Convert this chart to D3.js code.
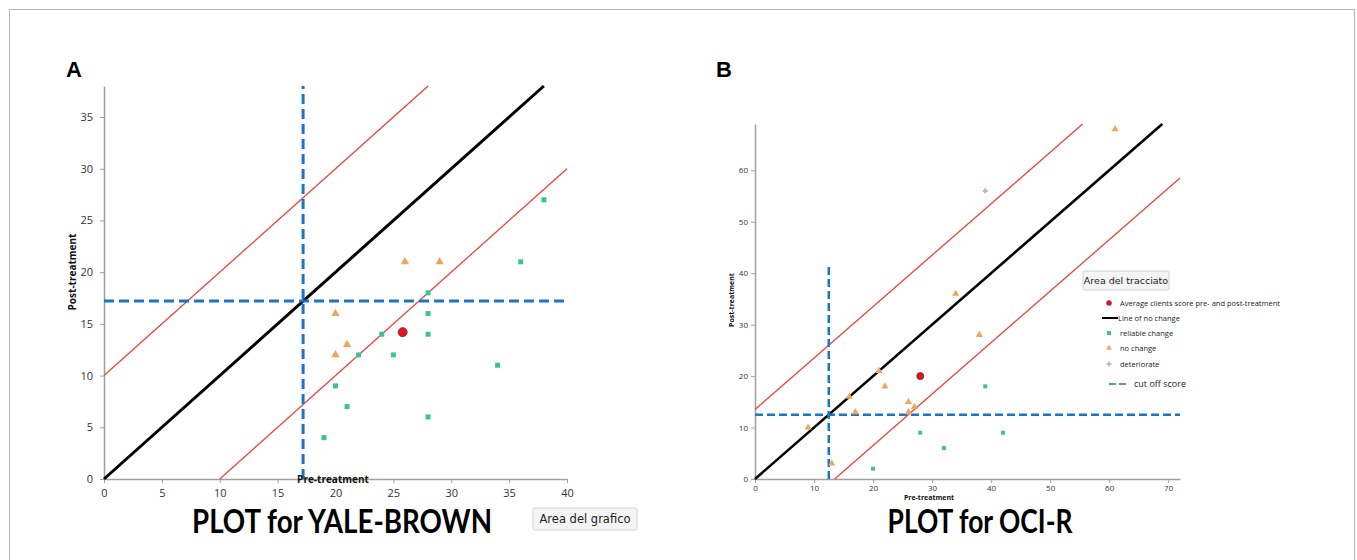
<!DOCTYPE html>
<html>
<head>
<meta charset="utf-8">
<script src="https://cdn.jsdelivr.net/npm/d3@7"></script>
<style>
  body { margin: 0; background: #fff; }
  svg { display: block; }
</style>
</head>
<body>
<svg id="chart"></svg>
<script>
const width = 1357, height = 560;

// Panel A - YALE-BROWN
const yaleReliable = [[19,4],[20,9],[21,7],[22,12],[24,14],[25,12],[28,18],[28,16],[28,14],[28,6],[34,11],[36,21],[38,27]];
const yaleNoChange = [[20,16],[20,12],[21,13],[26,21],[29,21]];
const yaleAverage = [[25.8,14.2]];
const yaleCutoff = 17.2;
const yaleBand = 10;
const yaleXTicks = [0,5,10,15,20,25,30,35,40];
const yaleYTicks = [0,5,10,15,20,25,30,35];

// Panel B - OCI-R
const ociReliable = [[20,2],[28,9],[32,6],[39,18],[42,9]];
const ociNoChange = [[9,10],[13,3],[16,16],[17,13],[21,21],[22,18],[26,15],[26,13],[27,14],[34,36],[38,28],[61,68]];
const ociDeteriorate = [[39,56]];
const ociAverage = [[28,20]];
const ociCutoff = 12.5;
const ociBand = 13.5;
const ociXTicks = [0,10,20,30,40,50,60,70];
const ociYTicks = [0,10,20,30,40,50,60];

const legendLabels = ["Average clients score pre- and post-treatment","Line of no change","reliable change","no change","deteriorate","cut off score"];

const colors = {
  green: "#3cc48e", orange: "#f2a35e", red: "#e8121b", band: "#e8453a",
  blue: "#1c74c4", gray: "#c4aab8", axis: "#a0a0a0", tick: "#333"
};

const svg = d3.select("#chart")
  .attr("width", width)
  .attr("height", height)
  .attr("viewBox", [0, 0, width, height]);

// figure frame
svg.append("rect")
  .attr("x", 9.5).attr("y", 9.5)
  .attr("width", 1345).attr("height", 600)
  .attr("fill", "none").attr("stroke", "#b5b5b5").attr("stroke-width", 1);

function drawPanel(opt) {
  const x = d3.scaleLinear().domain(opt.xDomain).range(opt.xRange);
  const y = d3.scaleLinear().domain(opt.yDomain).range(opt.yRange);
  const g = svg.append("g");
  const [x0, x1] = opt.xDomain, [y0, y1] = opt.yDomain;

  // axes
  const xAxis = g.append("g")
    .attr("transform", `translate(0,${y(0)})`)
    .call(d3.axisBottom(x).tickValues(opt.xTicks).tickSize(4).tickPadding(opt.pad).tickSizeOuter(0));
  const yAxis = g.append("g")
    .attr("transform", `translate(${x(0)},0)`)
    .call(d3.axisLeft(y).tickValues(opt.yTicks).tickSize(4).tickPadding(opt.pad + 1).tickSizeOuter(0));
  [xAxis, yAxis].forEach(a => {
    a.select(".domain").attr("stroke", colors.axis).attr("stroke-width", 1.5);
    a.selectAll(".tick line").attr("stroke", colors.axis);
    a.selectAll(".tick text")
      .attr("fill", colors.tick)
      .attr("font-family", "Open Sans, sans-serif")
      .attr("font-size", opt.tickFont);
  });

  // band lines (reliable change limits)
  const band = opt.band;
  const upper = [[x0, band], [y1 - band, y1]];
  const lower = [[band, 0], [x1, x1 - band]];
  const line = d3.line().x(d => x(d[0])).y(d => y(d[1]));
  [upper, lower].forEach(seg => {
    g.append("path").attr("d", line(seg))
      .attr("fill", "none").attr("stroke", colors.band).attr("stroke-width", 1.3);
  });
  // line of no change
  const top = Math.min(x1, y1);
  g.append("path").attr("d", line([[0,0],[top, top]]))
    .attr("fill", "none").attr("stroke", "#000").attr("stroke-width", opt.blackW);

  // cut off lines
  g.append("path").attr("d", line([[0, opt.cutoff], [x1, opt.cutoff]]))
    .attr("fill", "none").attr("stroke", colors.blue)
    .attr("stroke-width", opt.dashW).attr("stroke-dasharray", opt.dash);
  g.append("path").attr("d", line([[opt.cutoff, 0], [opt.cutoff, opt.vTop]]))
    .attr("fill", "none").attr("stroke", colors.blue)
    .attr("stroke-width", opt.dashW).attr("stroke-dasharray", opt.dash);

  // points
  const s = opt.sq;
  g.selectAll(".rel").data(opt.reliable).join("rect")
    .attr("x", d => x(d[0]) - s / 2).attr("y", d => y(d[1]) - s / 2)
    .attr("width", s).attr("height", s).attr("fill", colors.green);
  const tri = d3.symbol().type(d3.symbolTriangle).size(opt.triSize);
  g.selectAll(".noc").data(opt.noChange).join("path")
    .attr("d", tri).attr("transform", d => `translate(${x(d[0])},${y(d[1])})`)
    .attr("fill", colors.orange);
  if (opt.deteriorate) {
    const star = d3.symbol().type(d3.symbolCross).size(opt.triSize * 0.7);
    g.selectAll(".det").data(opt.deteriorate).join("path")
      .attr("d", star).attr("transform", d => `translate(${x(d[0])},${y(d[1])})`)
      .attr("fill", colors.gray);
  }
  g.selectAll(".avg").data(opt.average).join("circle")
    .attr("cx", d => x(d[0])).attr("cy", d => y(d[1])).attr("r", opt.avgR)
    .attr("fill", colors.red).attr("stroke", "#6b3b46").attr("stroke-width", 1);

  // axis titles
  g.append("text")
    .attr("transform", `translate(${opt.yLabelX},${opt.yLabelY}) rotate(-90)`)
    .attr("text-anchor", "middle")
    .attr("font-family", "Open Sans, sans-serif").attr("font-weight", "bold")
    .attr("font-size", opt.labelFont).attr("fill", "#111")
    .text("Post-treatment");
  g.append("text")
    .attr("x", opt.xLabelX).attr("y", opt.xLabelY)
    .attr("text-anchor", "middle")
    .attr("font-family", "Open Sans, sans-serif").attr("font-weight", "bold")
    .attr("font-size", opt.labelFont).attr("fill", "#111")
    .text("Pre-treatment");

  // panel letter and title
  g.append("text")
    .attr("x", opt.letterX).attr("y", 77)
    .attr("font-family", "Liberation Sans, Arial, sans-serif").attr("font-weight", "bold")
    .attr("font-size", 22).attr("fill", "#000")
    .text(opt.letter);
  // title is narrower than Lato bold, squeeze horizontally
  g.append("text")
    .attr("transform", `translate(${opt.titleX},533) scale(${opt.titleScale},1)`)
    .attr("text-anchor", "middle")
    .attr("font-family", "Lato, sans-serif").attr("font-weight", "bold")
    .attr("font-size", 33).attr("fill", "#000")
    .text(opt.title);
  return { x, y, g };
}

drawPanel({
  xDomain: [0, 40], yDomain: [0, 38],
  xRange: [104, 567], yRange: [479, 86],
  xTicks: yaleXTicks, yTicks: yaleYTicks,
  pad: 6, tickFont: 11, labelFont: 10,
  band: yaleBand, cutoff: yaleCutoff, vTop: 38,
  blackW: 3, dashW: 3, dash: "10,5",
  reliable: yaleReliable, noChange: yaleNoChange, average: yaleAverage,
  sq: 5, triSize: 30, avgR: 4.5,
  yLabelX: 76, yLabelY: 272, xLabelX: 333, xLabelY: 483,
  letter: "A", letterX: 66, title: "PLOT for YALE-BROWN", titleX: 342, titleScale: 0.84
});

drawPanel({
  xDomain: [0, 72], yDomain: [0, 69],
  xRange: [755, 1180], yRange: [479, 124],
  xTicks: ociXTicks, yTicks: ociYTicks,
  pad: 2, tickFont: 8, labelFont: 7,
  band: ociBand, cutoff: ociCutoff, vTop: 42,
  blackW: 2.6, dashW: 2.5, dash: "8,4",
  reliable: ociReliable, noChange: ociNoChange, deteriorate: ociDeteriorate, average: ociAverage,
  sq: 4, triSize: 22, avgR: 3.5,
  yLabelX: 734, yLabelY: 300, xLabelX: 929, xLabelY: 500,
  letter: "B", letterX: 716, title: "PLOT for OCI-R", titleX: 980, titleScale: 0.8
});

// legend for panel B
const leg = svg.append("g").attr("transform", "translate(1109,303)");
const rowY = [0, 15, 30, 45, 61, 81];
legendLabels.forEach((label, i) => {
  const row = leg.append("g").attr("transform", `translate(0,${rowY[i]})`);
  if (i === 0) row.append("circle").attr("r", 2.5).attr("fill", colors.red).attr("stroke", "#6b3b46").attr("stroke-width", 0.6);
  if (i === 1) row.append("line").attr("x1", -7).attr("x2", 9).attr("stroke", "#000").attr("stroke-width", 2);
  if (i === 2) row.append("rect").attr("x", -2).attr("y", -2).attr("width", 4).attr("height", 4).attr("fill", colors.green);
  if (i === 3) row.append("path").attr("d", d3.symbol().type(d3.symbolTriangle).size(14)).attr("fill", colors.orange);
  if (i === 4) row.append("path").attr("d", d3.symbol().type(d3.symbolCross).size(14)).attr("fill", colors.gray);
  if (i === 5) row.append("line").attr("x1", 0).attr("x2", 19).attr("stroke", colors.blue)
    .attr("stroke-width", 1.5).attr("stroke-dasharray", "7,3");
  row.append("text")
    .attr("x", i === 1 ? 9 : (i === 5 ? 25 : 11)).attr("y", 3)
    .attr("font-family", "Open Sans, sans-serif")
    .attr("font-size", i === 5 ? 9 : 7.5).attr("fill", "#222")
    .text(label);
});

// tooltip-like boxes from the original screenshot
function tipBox(x, y, w, h, label, size) {
  const t = svg.append("g").attr("transform", `translate(${x},${y})`);
  t.append("rect").attr("width", w).attr("height", h).attr("rx", 2)
    .attr("fill", "#f4f4f4").attr("stroke", "#d2d2d2");
  t.append("text").attr("x", w / 2).attr("y", h / 2 + size * 0.36)
    .attr("text-anchor", "middle")
    .attr("font-family", "DejaVu Sans, sans-serif").attr("font-size", size).attr("fill", "#222")
    .text(label);
}
tipBox(533, 508, 104, 22, "Area del grafico", 11.5);
tipBox(1083, 271, 86, 19, "Area del tracciato", 9.5);
</script>
</body>
</html>
